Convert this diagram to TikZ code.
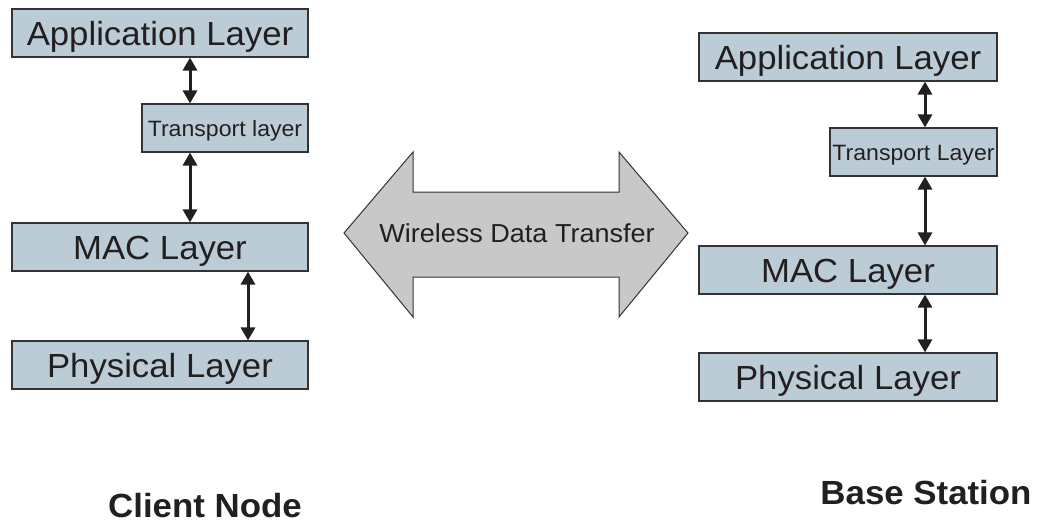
\documentclass[tikz,border=0pt]{standalone}
\usepackage{fontspec}
\setmainfont{Liberation Sans}[FakeStretch=1.04]
\usetikzlibrary{arrows.meta}
\definecolor{layerfill}{HTML}{BCCCD6}
\definecolor{edgegray}{HTML}{333333}
\definecolor{inkdark}{HTML}{231F20}
\definecolor{arrowgray}{HTML}{C8C8C8}
\begin{document}
\begin{tikzpicture}[x=1pt,y=-1pt,
  layer/.style={draw=edgegray, line width=1.1pt, fill=layerfill, text=inkdark,
                inner sep=0pt, minimum height=48pt, text depth=0pt},
  bigbox/.style={layer, minimum width=296pt, font=\fontsize{33.4}{40}\selectfont, text height=24pt},
  smallbox/.style={layer, minimum width=166pt, font=\fontsize{22.2}{26}\selectfont, text height=16.5pt},
  link/.style={{Triangle[width=14pt,length=13pt]}-{Triangle[width=14pt,length=13pt]},
               line width=3pt, draw=inkdark},
  caption/.style={font=\bfseries\fontsize{33.5}{40}\selectfont, text=inkdark, anchor=base, inner sep=0pt}]
\useasboundingbox (0,0) rectangle (1039,528);

% client stack
\node[bigbox]   (appL)  at (160,33)  {Application Layer};
\node[smallbox] (trL)   at (225,128) {Transport layer};
\node[bigbox]   (macL)  at (160,247) {MAC Layer};
\node[bigbox]   (phyL)  at (160,365) {Physical Layer};
\coordinate (colL1) at (190,0);
\coordinate (colL2) at (248,0);
\draw[link] (appL.south -| colL1) -- (trL.north -| colL1);
\draw[link] (trL.south -| colL1) -- (macL.north -| colL1);
\draw[link] (macL.south -| colL2) -- (phyL.north -| colL2);

% base station stack
\node[bigbox, minimum width=298pt]   (appR) at (848,57)    {Application Layer};
\node[smallbox, minimum width=167pt] (trR)  at (913.5,152) {Transport Layer};
\node[bigbox, minimum width=298pt]   (macR) at (848,270)   {MAC Layer};
\node[bigbox, minimum width=298pt]   (phyR) at (848,377)   {Physical Layer};
\coordinate (colR) at (925,0);
\draw[link] (appR.south -| colR) -- (trR.north -| colR);
\draw[link] (trR.south -| colR) -- (macR.north -| colR);
\draw[link] (macR.south -| colR) -- (phyR.north -| colR);

% wireless link
\draw[draw=edgegray, line width=1pt, fill=arrowgray]
  (344,233) -- (413,152) -- (413,192) -- (619,192) -- (619,152) -- (688,233)
  -- (619,317) -- (619,277) -- (413,277) -- (413,317) -- cycle;
\node[text=inkdark, font=\fontsize{26}{31}\selectfont, text height=19.5pt, text depth=0pt, inner sep=0pt]
  (wdt) at (517,233) {Wireless Data Transfer};

% captions
\node[caption] (client) at (205,517) {Client Node};
\node[caption] (base)   at (926,504) {Base Station};
\end{tikzpicture}
\end{document}
